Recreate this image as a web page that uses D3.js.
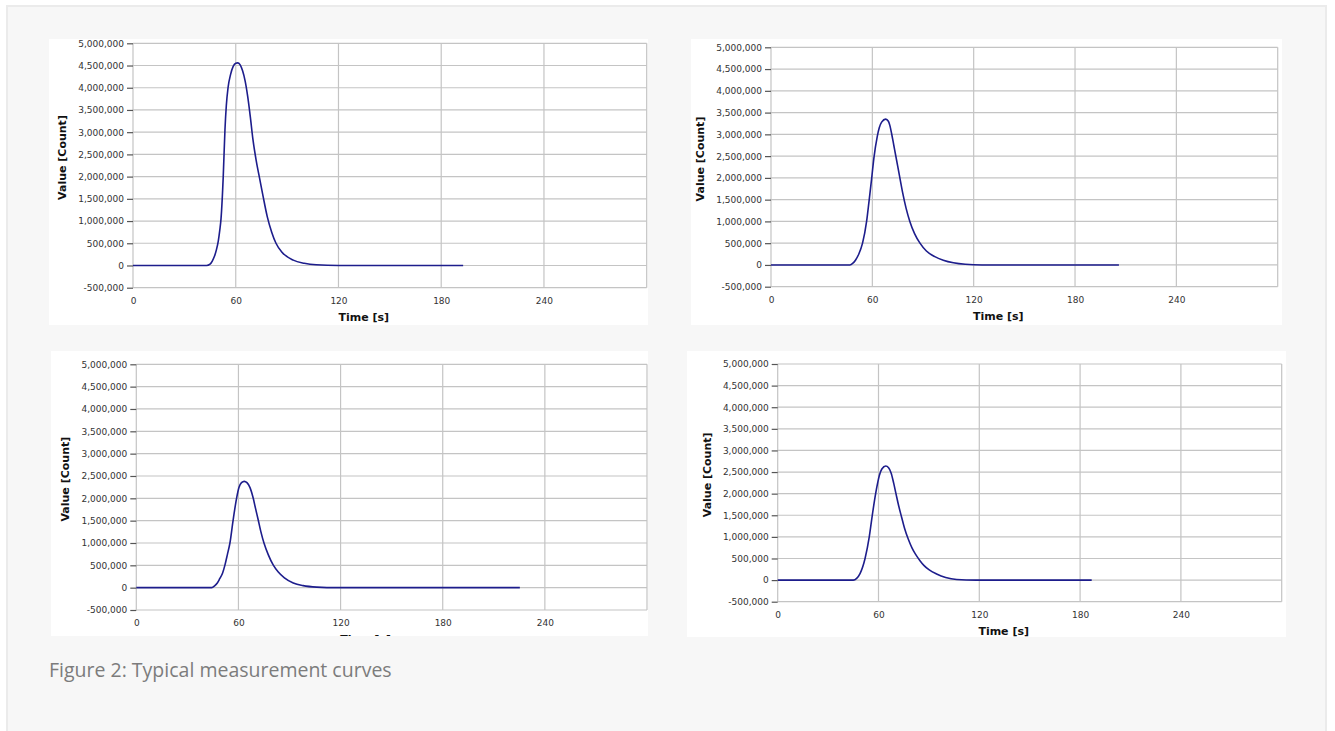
<!DOCTYPE html>
<html>
<head>
<meta charset="utf-8">
<script src="https://cdn.jsdelivr.net/npm/d3@7"></script>
<style>
    body { margin: 0; background: #ffffff; }
    svg { display: block; }
    .tick text { font-family: "DejaVu Sans", Verdana, sans-serif; font-size: 9px; fill: #333; }
    .axis-title { font-family: "DejaVu Sans", Verdana, sans-serif; font-size: 11px; font-weight: bold; fill: #111; }
</style>
</head>
<body>
<svg id="chart" width="1335" height="731"></svg>
<script>
// tick values shared by all four panels
const timeTicks = [0, 60, 120, 180, 240];
const timeGrid = [0, 60, 120, 180, 240, 300];
const valueTicks = [-500000, 0, 500000, 1000000, 1500000, 2000000, 2500000,
                    3000000, 3500000, 4000000, 4500000, 5000000];

const curveTopLeft = [[0, 0], [43, 0], [45, 30000], [46.3, 100000], [47.5, 200000], [48.7, 350000],
    [49.8, 550000], [50.7, 800000], [51.4, 1050000], [52.7, 2000000], [53.7, 3050000],
    [54.5, 3600000], [55.5, 4000000], [57, 4300000], [58.5, 4480000], [60, 4550000],
    [61.1, 4560000], [62.5, 4520000], [64, 4380000], [65.5, 4150000], [67, 3800000],
    [68.5, 3350000], [70, 2850000], [72, 2350000], [74, 1950000], [76, 1550000],
    [78.4, 1100000], [81, 750000], [83.5, 500000], [87, 300000], [93.6, 120000],
    [100, 50000], [107, 15000], [120, 0], [192.8, 0]];

const curveTopRight = [[0, 0], [46.7, 0], [48.5, 40000], [50.1, 115000], [52, 250000], [54.2, 500000],
    [56.6, 1000000], [58, 1450000], [59.6, 1990000], [60.9, 2450000], [62.9, 2950000],
    [64.1, 3150000], [65.5, 3280000], [67.9, 3350000], [69.5, 3300000], [70.4, 3200000],
    [71.4, 3020000], [72.7, 2750000], [74, 2480000], [76.3, 2000000], [78, 1650000],
    [80, 1300000], [82.2, 1000000], [85, 720000], [88.2, 500000], [92, 320000], [97, 190000],
    [102, 110000], [108, 50000], [115, 15000], [125, 0], [206, 0]];

const curveBottomLeft = [[0, 0], [44.3, 0], [46, 40000], [47.6, 105000], [49, 200000], [50.7, 330000],
    [52.1, 510000], [53.5, 740000], [55, 1000000], [56.9, 1520000], [58.9, 2000000],
    [60.3, 2240000], [61.8, 2350000], [63.4, 2380000], [65, 2350000], [66.8, 2240000],
    [68.7, 2000000], [70, 1780000], [71.6, 1520000], [73.2, 1250000], [75, 1000000],
    [77.5, 740000], [80.4, 510000], [83.4, 350000], [87, 220000], [92.2, 105000],
    [98, 45000], [106, 12000], [118, 0], [225.3, 0]];

const curveBottomRight = [[0, 0], [45, 0], [47, 40000], [49, 150000], [52, 500000], [54.5, 1000000],
    [56.3, 1500000], [58.3, 2000000], [59.5, 2250000], [60.5, 2420000], [62, 2570000],
    [64.3, 2640000], [66, 2600000], [67.5, 2480000], [69, 2250000], [70.4, 2000000],
    [72, 1720000], [73.8, 1450000], [75.5, 1200000], [77.7, 950000], [80, 740000],
    [82, 600000], [84.7, 450000], [87, 340000], [90, 240000], [94.6, 140000], [100, 60000],
    [106.5, 15000], [118, 0], [186.9, 0]];

const caption = "Figure 2: Typical measurement curves";

// layout of the four screenshots: white box and plot area
const panels = [
    {data: curveTopLeft,     box: {x: 49, y: 39, w: 599, h: 286},  plot: {l: 133,   t: 43.3,  r: 646.7,  b: 287.7}},
    {data: curveTopRight,    box: {x: 691, y: 39, w: 591, h: 286}, plot: {l: 771,   t: 47.3,  r: 1277.7, b: 286.7}},
    {data: curveBottomLeft,  box: {x: 51, y: 351, w: 597, h: 285}, plot: {l: 136.3, t: 364.3, r: 647,    b: 610}},
    {data: curveBottomRight, box: {x: 687, y: 351, w: 599, h: 286},plot: {l: 777.7, t: 364,   r: 1281.7, b: 601.7}}
];

const gridColor = "#c4c4c4";
const lineColor = "#1d1d8c";

const locale = d3.formatLocale({decimal: ".", thousands: ",", grouping: [3], currency: ["", ""], minus: "-"});
const fmt = locale.format(",");

const svg = d3.select("#chart");

// page frame
svg.append("rect")
    .attr("x", 7).attr("y", 6)
    .attr("width", 1319).attr("height", 760)
    .attr("fill", "#f7f7f7")
    .attr("stroke", "#ebebeb")
    .attr("stroke-width", 2);

panels.forEach((p, i) => {
    const clipId = "clip" + i;
    svg.append("clipPath").attr("id", clipId)
        .append("rect")
        .attr("x", p.box.x).attr("y", p.box.y)
        .attr("width", p.box.w).attr("height", p.box.h);

    const g = svg.append("g").attr("clip-path", `url(#${clipId})`);

    g.append("rect")
        .attr("x", p.box.x).attr("y", p.box.y)
        .attr("width", p.box.w).attr("height", p.box.h)
        .attr("fill", "#fff");

    const x = d3.scaleLinear().domain([0, 300]).range([p.plot.l, p.plot.r]);
    const y = d3.scaleLinear().domain([-500000, 5000000]).range([p.plot.b, p.plot.t]);

    // grid
    g.append("g").selectAll("line")
        .data(valueTicks)
        .join("line")
        .attr("x1", p.plot.l).attr("x2", p.plot.r)
        .attr("y1", d => y(d)).attr("y2", d => y(d))
        .attr("stroke", gridColor).attr("stroke-width", 1.2);

    g.append("g").selectAll("line")
        .data(timeGrid)
        .join("line")
        .attr("x1", d => x(d)).attr("x2", d => x(d))
        .attr("y1", p.plot.t).attr("y2", p.plot.b)
        .attr("stroke", gridColor).attr("stroke-width", 1.2);

    // curve
    const line = d3.line()
        .x(d => x(d[0]))
        .y(d => y(d[1]))
        .curve(d3.curveMonotoneX);

    g.append("path")
        .datum(p.data)
        .attr("d", line)
        .attr("fill", "none")
        .attr("stroke", lineColor)
        .attr("stroke-width", 1.6);

    // y axis
    const yAxis = g.append("g")
        .attr("transform", `translate(${p.plot.l},0)`)
        .call(d3.axisLeft(y).tickValues(valueTicks).tickFormat(fmt).tickSize(6).tickPadding(3));
    yAxis.select(".domain").remove();
    yAxis.selectAll(".tick line").attr("stroke", "#555").attr("stroke-width", 1.2);

    // x axis
    const xAxis = g.append("g")
        .attr("transform", `translate(0,${p.plot.b})`)
        .call(d3.axisBottom(x).tickValues(timeTicks).tickSize(0).tickPadding(10));
    xAxis.select(".domain").remove();

    // axis titles
    g.append("text")
        .attr("class", "axis-title")
        .attr("x", (p.plot.l + p.plot.r) / 2 - 26)
        .attr("y", p.plot.b + 33)
        .attr("text-anchor", "middle")
        .text("Time [s]");

    const cy = (p.plot.t + p.plot.b) / 2 - 8;
    g.append("text")
        .attr("class", "axis-title")
        .attr("transform", `translate(${p.plot.l - 71},${cy}) rotate(-90)`)
        .attr("text-anchor", "middle")
        .attr("dy", "0.35em")
        .text("Value [Count]");
});

svg.append("text")
    .attr("x", 49).attr("y", 677)
    .attr("font-family", "'Open Sans', 'Noto Sans', sans-serif")
    .attr("font-size", 19.5)
    .attr("fill", "#7c7c7c")
    .text(caption);
</script>
</body>
</html>
